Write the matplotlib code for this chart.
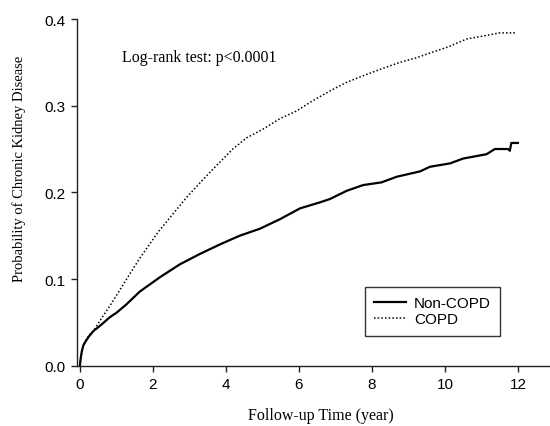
import matplotlib
matplotlib.use("Agg")
import matplotlib.pyplot as plt

# Non-COPD (solid)
t_non = [0, 0.02, 0.05, 0.09, 0.14, 0.25, 0.37, 0.55, 0.82, 1.0, 1.28, 1.64, 2.19, 2.74, 3.29,
         3.84, 4.38, 4.93, 5.48, 6.03, 6.58, 6.85, 7.31, 7.76, 8.26, 8.68, 9.32, 9.59, 10.14,
         10.5, 11.14, 11.37, 11.73, 11.78, 11.82, 12.0]
y_non = [0, 0.008, 0.016, 0.023, 0.027, 0.034, 0.040, 0.046, 0.056, 0.061, 0.071, 0.0855, 0.102,
         0.117, 0.129, 0.140, 0.150, 0.158, 0.169, 0.1815, 0.1885, 0.1923, 0.2018, 0.2084,
         0.2115, 0.218, 0.2242, 0.2295, 0.2334, 0.239, 0.244, 0.250, 0.250, 0.248, 0.257, 0.257]

# COPD (dotted)
t_copd = [0, 0.02, 0.05, 0.09, 0.14, 0.25, 0.37, 0.55, 0.82, 1.0, 1.28, 1.64, 2.14, 2.47, 2.92,
          3.29, 3.65, 4.19, 4.57, 5.02, 5.48, 5.94, 6.39, 6.85, 7.31, 7.85, 8.3, 8.77, 9.2,
          9.68, 10.1, 10.6, 11.0, 11.5, 11.92]
y_copd = [0, 0.008, 0.016, 0.023, 0.028, 0.035, 0.040, 0.052, 0.069, 0.081, 0.100, 0.124, 0.154,
          0.171, 0.194, 0.211, 0.227, 0.250, 0.263, 0.273, 0.285, 0.294, 0.306, 0.317, 0.327,
          0.336, 0.343, 0.350, 0.355, 0.362, 0.368, 0.377, 0.380, 0.384, 0.384]

x_ticks = [0, 2, 4, 6, 8, 10, 12]
y_ticks = [0.0, 0.1, 0.2, 0.3, 0.4]
labels = ["Non-COPD", "COPD"]

fig = plt.figure(figsize=(5.5, 4.27), dpi=100)
ax = fig.add_axes([77/550, 1 - 366.7/427, 473/550, 346.7/427])

ax.plot(t_non, y_non, color="black", lw=1.6, label=labels[0])
ax.plot(t_copd, y_copd, color="black", lw=1.1, linestyle=(0, (1, 1.4)), label=labels[1])

ax.set_xlim(-0.08, 12.88)
ax.set_ylim(0, 0.4)
ax.set_xticks(x_ticks)
ax.set_yticks(y_ticks)
ax.set_yticklabels([f"{v:.1f}" for v in y_ticks])
for s in ["top", "right"]:
    ax.spines[s].set_visible(False)
for s in ["left", "bottom"]:
    ax.spines[s].set_color("#222222")
    ax.spines[s].set_linewidth(1.0)
ax.tick_params(direction="out", length=4, width=1.0, color="#222222",
               labelsize=11, pad=4)
for lab in ax.get_xticklabels() + ax.get_yticklabels():
    lab.set_family("Liberation Sans")

ax.set_xlabel("Follow-up Time (year)", family="Liberation Serif", fontsize=11.5)
ax.set_ylabel("Probability of Chronic Kidney Disease", family="Liberation Serif", fontsize=10.5)
ax.xaxis.set_label_coords(0.516, -0.118)
ax.yaxis.set_label_coords(-0.108, 0.57)

ax.text(1.15, 0.356, "Log-rank test: p<0.0001", family="Liberation Serif", fontsize=11.5,
        va="center", ha="left")

leg = ax.legend(loc="upper left", bbox_to_anchor=((365-77)/473, (366.7-288)/346.7),
                borderaxespad=0, frameon=True, fancybox=False, edgecolor="black",
                prop={"family": "Liberation Sans", "size": 11}, handlelength=2.1,
                labelspacing=0.15, borderpad=0.6, handletextpad=0.5)
leg.get_frame().set_linewidth(1.0)

fig.savefig("out.png", dpi=100)
